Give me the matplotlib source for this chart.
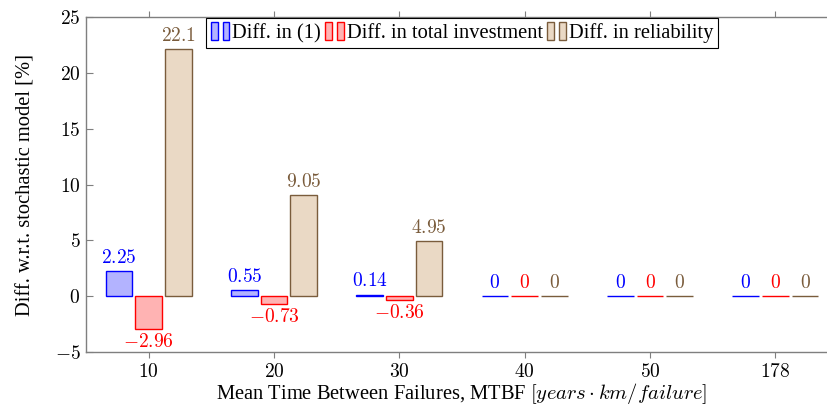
import matplotlib
matplotlib.use("Agg")
import matplotlib.pyplot as plt
import numpy as np
from matplotlib.patches import Rectangle
from matplotlib.legend_handler import HandlerBase

plt.rcParams['font.family'] = ['Liberation Serif', 'DejaVu Serif']
plt.rcParams['mathtext.fontset'] = 'cm'

categories = ["10", "20", "30", "40", "50", "178"]
diff_obj = [2.25, 0.55, 0.14, 0, 0, 0]
diff_invest = [-2.96, -0.73, -0.36, 0, 0, 0]
diff_rel = [22.1, 9.05, 4.95, 0, 0, 0]
series_names = ["Diff. in (1)", "Diff. in total investment", "Diff. in reliability"]
y_ticks = [-5, 0, 5, 10, 15, 20, 25]

edge_colors = ["#0000ff", "#ff0000", "#7a5c3c"]
fill_colors = ["#b3b3ff", "#ffb3b3", "#ead9c5"]
label_colors = ["#0000ff", "#ff0000", "#7a5c3c"]

FS = 14
TFS = 14.8
fig = plt.figure(figsize=(8.27, 4.07), dpi=100)
ax = fig.add_axes([86/827, 55/407, 752/827, 335/407])

x = np.arange(len(categories))
offsets = [-0.237, 0.0, 0.237]
width = 0.213
series = [diff_obj, diff_invest, diff_rel]
handles = []
for vals, off, ec, fc, lc in zip(series, offsets, edge_colors, fill_colors, label_colors):
    bars = ax.bar(x + off, vals, width, facecolor=fc, edgecolor=ec, linewidth=1.0, zorder=2)
    handles.append(bars)
    for xi, v in zip(x + off, vals):
        txt = "$%s$" % (("%g" % v) if v >= 0 else "-%g" % abs(v))
        if v >= 0:
            ax.annotate(txt, (xi, v), xytext=(0, 3), textcoords="offset points",
                        ha="center", va="bottom", color=lc, fontsize=FS)
        else:
            ax.annotate(txt, (xi, v), xytext=(0, -3), textcoords="offset points",
                        ha="center", va="top", color=lc, fontsize=FS)

ax.set_xlim(-0.5, len(categories) - 0.5)
ax.set_ylim(-5, 25)
ax.set_xticks(x)
ax.set_xticklabels(["$%s$" % c for c in categories], fontsize=FS)
ax.set_yticks(y_ticks)
ax.set_yticklabels(["$%d$" % t if t >= 0 else "$-%d$" % abs(t) for t in y_ticks], fontsize=FS)

gray = "#7f7f7f"
for s in ax.spines.values():
    s.set_color(gray)
    s.set_linewidth(1.0)
ax.spines['right'].set_visible(False)
ax.tick_params(axis='x', which='both', direction='out', top=True, bottom=True,
               length=4, width=0.8, color=gray, pad=4)
ax.tick_params(axis='y', which='both', direction='in', left=True, right=False,
               length=5, width=0.8, color=gray, pad=4)

ax.set_xlabel("Mean Time Between Failures, MTBF $[years \\cdot km/failure]$", fontsize=TFS, labelpad=0)
ax.set_ylabel("Diff. w.r.t. stochastic model [%]", fontsize=TFS, labelpad=14)


class HandlerYBar(HandlerBase):
    def create_artists(self, legend, orig_handle, xdescent, ydescent, width, height, fontsize, trans):
        p = orig_handle.patches[0]
        fc = p.get_facecolor()
        ec = p.get_edgecolor()
        bw = width * 0.36
        h = height * 1.25
        y0 = -ydescent - height * 0.15
        r1 = Rectangle((-xdescent, y0), bw, h, facecolor=fc, edgecolor=ec, lw=1.0, transform=trans)
        r2 = Rectangle((-xdescent + width - bw, y0), bw, h, facecolor=fc, edgecolor=ec, lw=1.0, transform=trans)
        return [r1, r2]


leg = ax.legend(handles, series_names, loc="upper center", bbox_to_anchor=(0.5, 1.0),
                ncol=3, fontsize=TFS, frameon=True, fancybox=False, framealpha=1,
                edgecolor="black", borderpad=0.25, handlelength=0.9, handletextpad=0.15,
                columnspacing=0.2, borderaxespad=0.05,
                handler_map={type(handles[0]): HandlerYBar()})
leg.get_frame().set_linewidth(0.8)

fig.savefig("out.png", dpi=100)
